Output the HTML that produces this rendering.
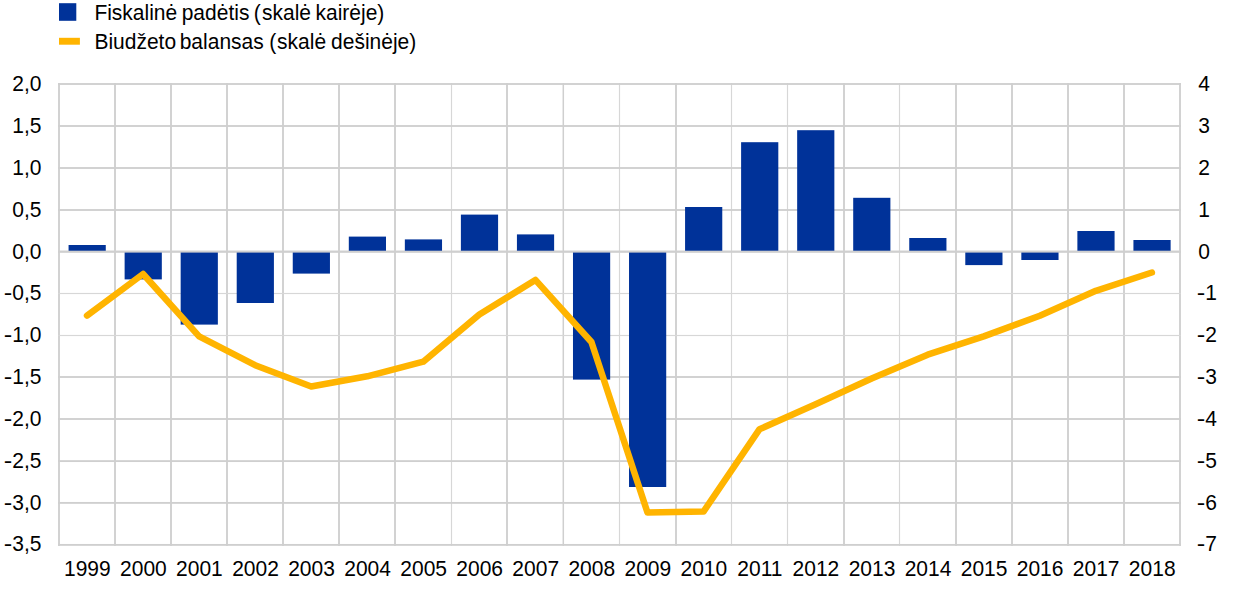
<!DOCTYPE html>
<html lang="lt"><head><meta charset="utf-8"><title>Fiskalinė padėtis ir biudžeto balansas</title>
<style>html,body{margin:0;padding:0;background:#fff}body{width:1240px;height:590px;overflow:hidden}svg{display:block}text{font-family:"Liberation Sans",sans-serif;font-size:21px;fill:#000}</style></head><body>
<svg width="1240" height="590" viewBox="0 0 1240 590">
<rect width="1240" height="590" fill="#fff"/>
<rect x="58.08" y="83" width="1.85" height="462.9" fill="#cfcfcf"/>
<rect x="114.08" y="83" width="1.85" height="462.9" fill="#cfcfcf"/>
<rect x="170.07" y="83" width="1.85" height="462.9" fill="#cfcfcf"/>
<rect x="226.07" y="83" width="1.85" height="462.9" fill="#cfcfcf"/>
<rect x="282.07" y="83" width="1.85" height="462.9" fill="#cfcfcf"/>
<rect x="338.07" y="83" width="1.85" height="462.9" fill="#cfcfcf"/>
<rect x="394.07" y="83" width="1.85" height="462.9" fill="#cfcfcf"/>
<rect x="450.93" y="83" width="1.15" height="462.9" fill="#d7d7d7"/>
<rect x="506.07" y="83" width="1.85" height="462.9" fill="#cfcfcf"/>
<rect x="562.55" y="83" width="1.5" height="462.9" fill="#cfcfcf"/>
<rect x="618.92" y="83" width="1.15" height="462.9" fill="#d7d7d7"/>
<rect x="675.08" y="83" width="1.85" height="462.9" fill="#cfcfcf"/>
<rect x="730.92" y="83" width="1.15" height="462.9" fill="#d7d7d7"/>
<rect x="786.92" y="83" width="1.15" height="462.9" fill="#d7d7d7"/>
<rect x="843.08" y="83" width="1.85" height="462.9" fill="#cfcfcf"/>
<rect x="898.92" y="83" width="1.15" height="462.9" fill="#d7d7d7"/>
<rect x="955.08" y="83" width="1.85" height="462.9" fill="#cfcfcf"/>
<rect x="1011.08" y="83" width="1.85" height="462.9" fill="#cfcfcf"/>
<rect x="1067.08" y="83" width="1.85" height="462.9" fill="#cfcfcf"/>
<rect x="1123.08" y="83" width="1.85" height="462.9" fill="#cfcfcf"/>
<rect x="1179.08" y="83" width="1.85" height="462.9" fill="#cfcfcf"/>
<rect x="58" y="83.08" width="1123" height="1.85" fill="#cfcfcf"/>
<rect x="58" y="125.08" width="1123" height="1.85" fill="#cfcfcf"/>
<rect x="58" y="167.07" width="1123" height="1.85" fill="#cfcfcf"/>
<rect x="58" y="209.07" width="1123" height="1.85" fill="#cfcfcf"/>
<rect x="58" y="250.72" width="1123" height="1.85" fill="#cfcfcf"/>
<rect x="58" y="292.93" width="1123" height="1.15" fill="#d7d7d7"/>
<rect x="58" y="334.93" width="1123" height="1.15" fill="#d7d7d7"/>
<rect x="58" y="376.07" width="1123" height="1.85" fill="#cfcfcf"/>
<rect x="58" y="418.07" width="1123" height="1.85" fill="#cfcfcf"/>
<rect x="58" y="460.18" width="1123" height="1.85" fill="#cfcfcf"/>
<rect x="58" y="501.97" width="1123" height="1.85" fill="#cfcfcf"/>
<rect x="58" y="543.98" width="1123" height="1.85" fill="#cfcfcf"/>
<rect x="68.57" y="245.00" width="37.20" height="6.65" fill="#003299"/>
<rect x="124.62" y="251.65" width="37.20" height="27.75" fill="#003299"/>
<rect x="180.66" y="251.65" width="37.20" height="72.95" fill="#003299"/>
<rect x="236.71" y="251.65" width="37.20" height="51.35" fill="#003299"/>
<rect x="292.75" y="251.65" width="37.20" height="21.95" fill="#003299"/>
<rect x="348.80" y="236.60" width="37.20" height="15.05" fill="#003299"/>
<rect x="404.84" y="239.40" width="37.20" height="12.25" fill="#003299"/>
<rect x="460.89" y="214.60" width="37.20" height="37.05" fill="#003299"/>
<rect x="516.93" y="234.40" width="37.20" height="17.25" fill="#003299"/>
<rect x="572.98" y="251.65" width="37.20" height="127.95" fill="#003299"/>
<rect x="629.02" y="251.65" width="37.20" height="235.35" fill="#003299"/>
<rect x="685.07" y="207.00" width="37.20" height="44.65" fill="#003299"/>
<rect x="741.11" y="142.20" width="37.20" height="109.45" fill="#003299"/>
<rect x="797.16" y="130.20" width="37.20" height="121.45" fill="#003299"/>
<rect x="853.20" y="197.80" width="37.20" height="53.85" fill="#003299"/>
<rect x="909.25" y="238.00" width="37.20" height="13.65" fill="#003299"/>
<rect x="965.29" y="251.65" width="37.20" height="13.45" fill="#003299"/>
<rect x="1021.34" y="251.65" width="37.20" height="8.35" fill="#003299"/>
<rect x="1077.38" y="231.00" width="37.20" height="20.65" fill="#003299"/>
<rect x="1133.43" y="240.00" width="37.20" height="11.65" fill="#003299"/>
<rect x="58" y="250.70" width="1123" height="1.9" fill="#cfcfcf"/>
<polyline points="87.02,315.60 143.07,274.00 199.11,336.40 255.16,365.20 311.20,386.50 367.25,376.30 423.29,361.70 479.34,314.60 535.38,279.90 591.43,342.00 647.47,512.50 703.52,511.60 759.56,429.20 815.61,404.30 871.65,378.50 927.70,354.70 983.74,336.40 1039.79,315.80 1095.83,290.80 1151.88,272.50" fill="none" stroke="#ffb400" stroke-width="6.5" stroke-linecap="round" stroke-linejoin="round"/>
<rect x="59" y="3.2" width="17.3" height="17.6" fill="#003299"/>
<rect x="59" y="37.8" width="20.9" height="6.9" fill="#ffb400"/>
<g transform="scale(1,1.055)">
<text y="18.82"><tspan x="94.4">Fiskalinė </tspan><tspan x="181.7">padėtis </tspan><tspan x="253.7">(</tspan><tspan x="262">skalė </tspan><tspan x="315.5">kairėje)</tspan></text>
<text y="46.4"><tspan x="94.4">Biudžeto </tspan><tspan x="179.7">balansas </tspan><tspan x="269.3">(</tspan><tspan x="277.1">skalė </tspan><tspan x="331.1">dešinėje)</tspan></text>
</g>
<g transform="scale(1,1.07)">
<text x="41.5" y="84.91" text-anchor="end">2,0</text>
<text x="41.5" y="124.11" text-anchor="end">1,5</text>
<text x="41.5" y="163.36" text-anchor="end">1,0</text>
<text x="41.5" y="202.62" text-anchor="end">0,5</text>
<text x="41.5" y="241.59" text-anchor="end">0,0</text>
<text x="41.5" y="280.19" text-anchor="end"><tspan textLength="8.5" lengthAdjust="spacingAndGlyphs">-</tspan>0,5</text>
<text x="41.5" y="319.63" text-anchor="end"><tspan textLength="8.5" lengthAdjust="spacingAndGlyphs">-</tspan>1,0</text>
<text x="41.5" y="358.88" text-anchor="end"><tspan textLength="8.5" lengthAdjust="spacingAndGlyphs">-</tspan>1,5</text>
<text x="41.5" y="398.13" text-anchor="end"><tspan textLength="8.5" lengthAdjust="spacingAndGlyphs">-</tspan>2,0</text>
<text x="41.5" y="437.38" text-anchor="end"><tspan textLength="8.5" lengthAdjust="spacingAndGlyphs">-</tspan>2,5</text>
<text x="41.5" y="476.54" text-anchor="end"><tspan textLength="8.5" lengthAdjust="spacingAndGlyphs">-</tspan>3,0</text>
<text x="41.5" y="515.14" text-anchor="end"><tspan textLength="8.5" lengthAdjust="spacingAndGlyphs">-</tspan>3,5</text>
<text x="1198.2" y="84.91">4</text>
<text x="1198.2" y="124.11">3</text>
<text x="1198.2" y="163.36">2</text>
<text x="1198.2" y="202.62">1</text>
<text x="1198.2" y="241.59">0</text>
<text x="1196.8" y="280.19"><tspan textLength="8.5" lengthAdjust="spacingAndGlyphs">-</tspan>1</text>
<text x="1196.8" y="319.63"><tspan textLength="8.5" lengthAdjust="spacingAndGlyphs">-</tspan>2</text>
<text x="1196.8" y="358.88"><tspan textLength="8.5" lengthAdjust="spacingAndGlyphs">-</tspan>3</text>
<text x="1196.8" y="398.13"><tspan textLength="8.5" lengthAdjust="spacingAndGlyphs">-</tspan>4</text>
<text x="1196.8" y="437.38"><tspan textLength="8.5" lengthAdjust="spacingAndGlyphs">-</tspan>5</text>
<text x="1196.8" y="476.54"><tspan textLength="8.5" lengthAdjust="spacingAndGlyphs">-</tspan>6</text>
<text x="1196.8" y="515.14"><tspan textLength="8.5" lengthAdjust="spacingAndGlyphs">-</tspan>7</text>
<text x="87.37" y="538.13" text-anchor="middle">1999</text>
<text x="143.42" y="538.13" text-anchor="middle">2000</text>
<text x="199.46" y="538.13" text-anchor="middle">2001</text>
<text x="255.51" y="538.13" text-anchor="middle">2002</text>
<text x="311.55" y="538.13" text-anchor="middle">2003</text>
<text x="367.60" y="538.13" text-anchor="middle">2004</text>
<text x="423.64" y="538.13" text-anchor="middle">2005</text>
<text x="479.69" y="538.13" text-anchor="middle">2006</text>
<text x="535.73" y="538.13" text-anchor="middle">2007</text>
<text x="591.78" y="538.13" text-anchor="middle">2008</text>
<text x="647.82" y="538.13" text-anchor="middle">2009</text>
<text x="703.87" y="538.13" text-anchor="middle">2010</text>
<text x="759.91" y="538.13" text-anchor="middle">2011</text>
<text x="815.96" y="538.13" text-anchor="middle">2012</text>
<text x="872.00" y="538.13" text-anchor="middle">2013</text>
<text x="928.05" y="538.13" text-anchor="middle">2014</text>
<text x="984.09" y="538.13" text-anchor="middle">2015</text>
<text x="1040.14" y="538.13" text-anchor="middle">2016</text>
<text x="1096.18" y="538.13" text-anchor="middle">2017</text>
<text x="1152.23" y="538.13" text-anchor="middle">2018</text>
</g>
</svg></body></html>
